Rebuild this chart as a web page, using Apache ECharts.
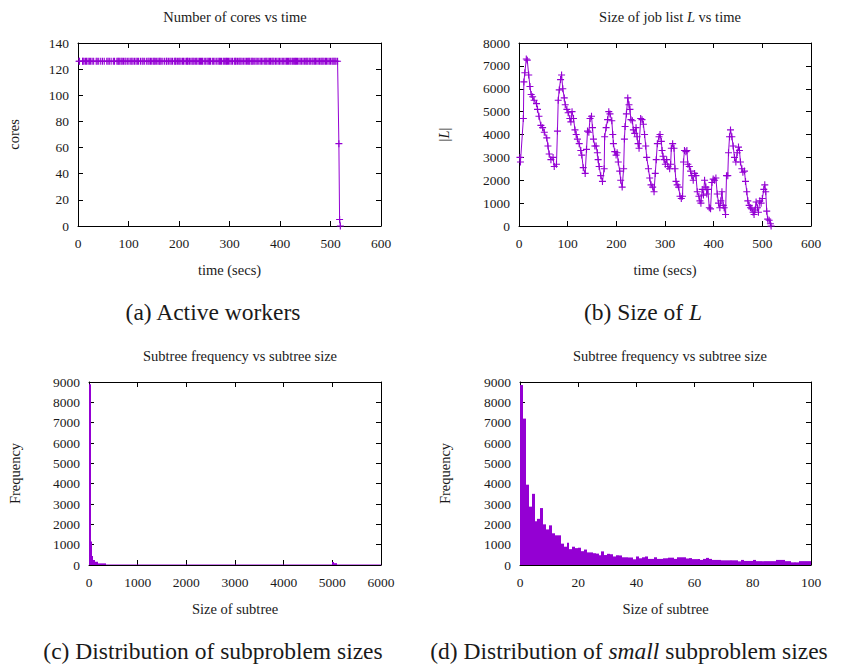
<!DOCTYPE html>
<html>
<head>
<meta charset="utf-8">
<script src="https://cdn.jsdelivr.net/npm/echarts@6/dist/echarts.min.js"></script>
<style>
  html, body { margin: 0; background: #fff; }
  #chart { width: 848px; height: 664px; }
</style>
</head>
<body>
<div id="chart"></div>
<script>
// sample times (secs), shared by the two time plots
const timeSecs = [
  2, 3, 9, 10, 12, 15, 17, 20, 22.5, 25,
  28, 31, 36, 38, 41, 45, 48.5, 52, 57, 59.5,
  62, 65.6, 70, 72.4, 77, 79, 80.6, 82.7, 85.4, 87.5,
  90, 93, 95, 98.4, 101, 104.5, 106.6, 109, 112, 115,
  117.5, 120, 123.7, 127, 129, 132, 136, 138.7, 140.8, 143.5,
  146, 149, 151, 153, 155.8, 158.5, 161, 162.6, 164.7, 168,
  171.5, 175, 176, 179, 182, 184.5, 187, 190.7, 192.7, 194,
  196.8, 199.5, 201.6, 204, 207, 209, 212, 215, 216.6, 218,
  220.7, 223.5, 226, 228, 230, 233, 235, 237.8, 240.5, 242.6,
  244.7, 246.7, 250, 252.8, 255.6, 258, 260.4, 262.4, 266, 268.6,
  271.3, 274.7, 277.5, 280, 282, 284.3, 287.7, 289.8, 292.5, 294,
  296, 298, 300.7, 303.4, 306, 309.6, 311.6, 313, 315.7, 318.5,
  320.5, 322.6, 325, 328, 330.8, 333.5, 336, 338, 340, 343,
  345, 347, 350, 352.6, 355, 358, 360.8, 363.6, 366.3, 369.7,
  371.8, 373.8, 376.5, 379, 381.3, 384, 386, 388, 391, 393.6,
  396.4, 399, 401.8, 404.6, 407.3, 410, 412.7, 414.8, 417, 419.6,
  421.6, 424.4, 426.4, 429, 430.5, 432.6, 434.6, 437.4, 440, 442.8,
  445.6, 448.3, 451, 453, 455, 457.9, 460, 463.3, 465.4, 468,
  470.2, 472.9, 475.6, 478.4, 481, 483, 485, 487.2, 490, 492,
  494.8, 497.5, 500, 503, 505, 507, 509, 511, 514, 516.6,
  518, 519.5
]

// (a) active cores
const coresActive = [
  126,126,126,126,126,126,126,126,126,126,126,126,126,126,126,126,126,126,126,126,
  126,126,126,126,126,126,126,126,126,126,126,126,126,126,126,126,126,126,126,126,
  126,126,126,126,126,126,126,126,126,126,126,126,126,126,126,126,126,126,126,126,
  126,126,126,126,126,126,126,126,126,126,126,126,126,126,126,126,126,126,126,126,
  126,126,126,126,126,126,126,126,126,126,126,126,126,126,126,126,126,126,126,126,
  126,126,126,126,126,126,126,126,126,126,126,126,126,126,126,126,126,126,126,126,
  126,126,126,126,126,126,126,126,126,126,126,126,126,126,126,126,126,126,126,126,
  126,126,126,126,126,126,126,126,126,126,126,126,126,126,126,126,126,126,126,126,
  126,126,126,126,126,126,126,126,126,126,126,126,126,126,126,126,126,126,126,126,
  126,126,126,126,126,126,126,126,126,126,126,126,126,126,126,126,126,126,126,
  63, 5, 0
]

// (b) size of job list L
const jobListSize = [
  3000, 2800, 4700, 6300, 6700, 7300, 7250, 6600, 6100, 5750,
  5650, 5500, 5350, 5100, 4800, 4400, 4300, 4100, 3850, 3500,
  3150, 2900, 3000, 2600, 2700, 4150, 5500, 5950, 6400, 6600,
  6000, 5600, 5300, 5100, 4950, 4700, 4550, 5000, 4700, 4200,
  4000, 3800, 3600, 3300, 3100, 2550, 2300, 3350, 4150, 4100,
  4700, 4800, 4300, 3800, 3500, 3500, 3200, 2900, 2600, 2200,
  1950, 2500, 3900, 4300, 4650, 5000, 4900, 4600, 4000, 3600,
  3250, 3100, 3200, 2800, 2400, 2000, 1700, 2500, 3800, 4350,
  4900, 5600, 5300, 5100, 4650, 4600, 4200, 4050, 4300, 3900,
  3600, 3400, 4700, 4650, 4450, 4000, 3500, 3000, 2500, 2100,
  1800, 1700, 1500, 2300, 2900, 3600, 3900, 4000, 3700, 3300,
  3050, 2900, 2700, 2900, 2600, 2500, 2700, 3400, 3600, 3400,
  2500, 1950, 1800, 1700, 1300, 1200, 1300, 2800, 3300, 3250,
  3300, 2700, 2600, 2400, 2200, 2000, 2300, 2200, 1500, 1300,
  1100, 1000, 1600, 1350, 2000, 1700, 1400, 1600, 800, 750,
  1900, 2050, 2000, 2100, 1400, 1000, 800, 1100, 1500, 900,
  800, 500, 2200, 2200, 3200, 3900, 4200, 3900, 3500, 3000,
  2800, 3200, 3450, 3300, 2800, 2500, 2350, 2400, 1950, 1500,
  1100, 900, 800, 750, 600, 500, 700, 1050, 800, 600,
  1100, 1000, 1200, 1600, 1800, 1500, 650, 300, 250, 100,
  0, null
]

// (c) histogram over all subtree sizes: bin edges and counts
const subtreeBinEdges = [0, 40, 60, 80, 120, 185, 350, 4990, 5040, 5090, 6000]
const subtreeBinFreq = [8890, 1150, 440, 250, 160, 80, 30, 150, 90, 30]

// (d) small subtree sizes, one bin per size 0..99
const smallSubtreeFreq = [
  8850, 7200, 3950, 2870, 3500, 2150, 2270, 2800, 2000, 1750,
  1950, 1560, 1460, 1460, 1050, 900, 1100, 780, 900, 830,
  850, 680, 760, 620, 620, 580, 560, 480, 670, 490,
  550, 530, 420, 480, 470, 380, 380, 370, 370, 280,
  420, 330, 380, 420, 300, 300, 380, 300, 300, 330,
  330, 360, 360, 300, 380, 380, 380, 320, 340, 290,
  290, 290, 250, 300, 350, 300, 250, 250, 250, 230,
  230, 230, 230, 230, 230, 180, 250, 200, 200, 200,
  250, 190, 190, 190, 190, 190, 190, 190, 250, 250,
  250, 190, 190, 130, 130, 130, 190, 190, 190, 190
]

const purple = '#9400D3'
const serif = 'Liberation Serif'
const textColor = '#1a1a1a'
const plusMark = 'path://M0,4.2H10V5.8H0ZM4.2,0H5.8V10H4.2Z'

const tickFont = {fontFamily: serif, fontSize: 13.5, color: textColor}
const nameFont = {fontFamily: serif, fontSize: 14.5, color: textColor}
const italic = {fontFamily: serif, fontSize: 14.5, fontStyle: 'italic', color: textColor}

// four axes per grid so the frame gets ticks on every side, like gnuplot
function xAxes(grid, max, step, name) {
  const base = {
    gridIndex: grid, type: 'value', min: 0, max: max, interval: step,
    axisLine: {show: true, onZero: false, lineStyle: {color: '#000', width: 1}},
    axisTick: {show: true, inside: true, length: 5, lineStyle: {color: '#000'}},
    splitLine: {show: false}
  }
  return [
    Object.assign({}, base, {
      position: 'bottom', name: name, nameLocation: 'middle', nameGap: 36,
      nameTextStyle: nameFont,
      axisLabel: Object.assign({margin: 10, formatter: v => String(v)}, tickFont)
    }),
    Object.assign({}, base, {position: 'top', axisLabel: {show: false}})
  ]
}

function yAxes(grid, max, step, name, gap) {
  const base = {
    gridIndex: grid, type: 'value', min: 0, max: max, interval: step,
    axisLine: {show: true, onZero: false, lineStyle: {color: '#000', width: 1}},
    axisTick: {show: true, inside: true, length: 5, lineStyle: {color: '#000'}},
    splitLine: {show: false}
  }
  return [
    Object.assign({}, base, {
      position: 'left', name: name, nameLocation: 'middle', nameGap: gap, nameRotate: 90,
      nameTextStyle: Object.assign({rich: {i: italic}}, nameFont),
      axisLabel: Object.assign({margin: 9, formatter: v => String(v)}, tickFont)
    }),
    Object.assign({}, base, {position: 'right', axisLabel: {show: false}})
  ]
}

function timeLine(grid, values) {
  return {
    type: 'line', xAxisIndex: grid * 2, yAxisIndex: grid * 2,
    data: timeSecs.map((t, i) => [t, values[i]]),
    symbol: plusMark, symbolSize: 7,
    itemStyle: {color: purple},
    lineStyle: {color: purple, width: 1},
    connectNulls: false
  }
}

function histogram(grid, bins) {
  return {
    type: 'custom', xAxisIndex: grid * 2, yAxisIndex: grid * 2,
    data: bins,
    encode: {x: [0, 1], y: 2},
    renderItem: function (params, api) {
      const top = api.coord([api.value(0), api.value(2)])
      const base = api.coord([api.value(1), 0])
      // snap box sides to whole pixels so neighbours meet without seams
      const x0 = Math.round(top[0])
      const x1 = Math.max(Math.round(base[0]), x0 + 1)
      return {
        type: 'rect',
        shape: {x: x0, y: top[1], width: x1 - x0, height: base[1] - top[1]},
        style: {fill: purple}
      }
    }
  }
}

const binsAll = subtreeBinFreq.map((f, i) => [subtreeBinEdges[i], subtreeBinEdges[i + 1], f])
const binsSmall = smallSubtreeFreq.map((f, i) => [i, i + 1, f])

function heading(text, x, y, size, rich) {
  return {
    text: text, left: x, top: y, textAlign: 'center',
    textStyle: {fontFamily: serif, fontSize: size, fontWeight: 'normal', color: textColor, rich: rich || {}}
  }
}

const titleSize = 14.5
const capSize = 23.5
const titleRich = {
  n: {fontFamily: serif, fontSize: titleSize, color: textColor},
  i: {fontFamily: serif, fontSize: titleSize, fontStyle: 'italic', color: textColor}
}
const capRich = {
  n: {fontFamily: serif, fontSize: capSize, color: textColor},
  i: {fontFamily: serif, fontSize: capSize, fontStyle: 'italic', color: textColor}
}

const myChart = echarts.init(document.getElementById('chart'), null, {renderer: 'svg'})
myChart.setOption({
  animation: false,
  backgroundColor: '#fff',
  title: [
    heading('Number of cores vs time', 230, 4, titleSize),
    heading('{n|Size of job list }{i|L}{n| vs time}', 665, 4, titleSize, titleRich),
    heading('Subtree frequency vs subtree size', 235, 343, titleSize),
    heading('Subtree frequency vs subtree size', 665, 343, titleSize),
    heading('(a) Active workers', 208, 295, capSize),
    heading('{n|(b) Size of }{i|L}', 638, 295, capSize, capRich),
    heading('(c) Distribution of subproblem sizes', 208, 634, capSize),
    heading('{n|(d) Distribution of }{i|small}{n| subproblem sizes}', 624, 634, capSize, capRich)
  ],
  grid: [
    {left: 78, top: 43, width: 303, height: 183},
    {left: 519, top: 43, width: 292, height: 183},
    {left: 89, top: 382, width: 292, height: 183},
    {left: 520, top: 382, width: 291, height: 183}
  ],
  xAxis: [].concat(
    xAxes(0, 600, 100, 'time (secs)'),
    xAxes(1, 600, 100, 'time (secs)'),
    xAxes(2, 6000, 1000, 'Size of subtree'),
    xAxes(3, 100, 20, 'Size of subtree')
  ),
  yAxis: [].concat(
    yAxes(0, 140, 20, 'cores', 57),
    yAxes(1, 8000, 1000, '|{i|L}|', 68),
    yAxes(2, 9000, 1000, 'Frequency', 67),
    yAxes(3, 9000, 1000, 'Frequency', 68)
  ),
  series: [
    timeLine(0, coresActive),
    timeLine(1, jobListSize),
    histogram(2, binsAll),
    histogram(3, binsSmall)
  ]
})
</script>
</body>
</html>
